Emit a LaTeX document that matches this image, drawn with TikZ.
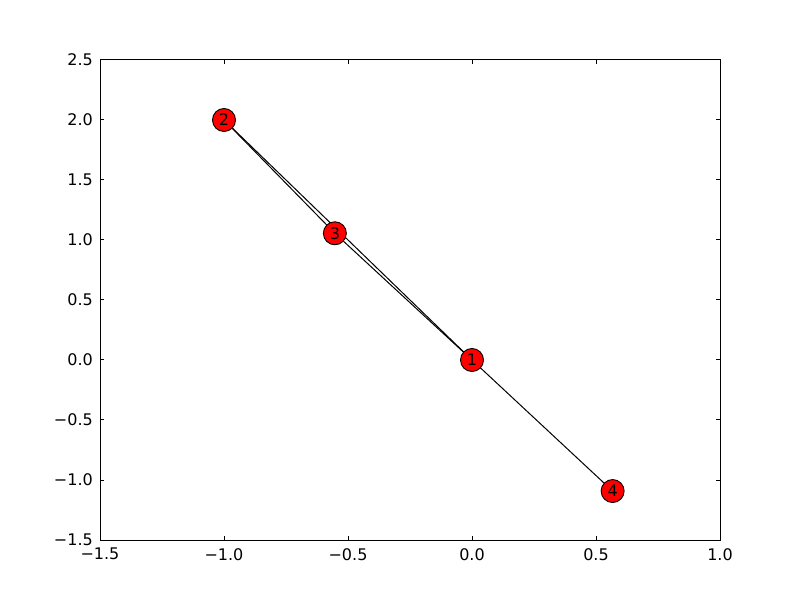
\documentclass[tikz,border=0pt]{standalone}
\usepackage{fontspec}
\setmainfont{DejaVu Sans}
\begin{document}
\begin{tikzpicture}[x=1pt,y=1pt,
  vertex/.style={circle,draw=black,line width=0.9pt,fill=red,minimum size=23pt,inner sep=0pt,font=\fontsize{16}{18}\selectfont},
  edge/.style={black,line width=1pt},
  ticklbl/.style={font=\fontsize{16}{18}\selectfont,inner sep=0pt},
  axisline/.style={black,line width=1pt}]
\useasboundingbox (0,0) rectangle (800,600);
\fill[white] (0,0) rectangle (800,600);
\begin{scope}[shift={(472pt,240pt)},x=248pt,y=120pt]
  \coordinate (ll) at (-1.5,-1.5);
  \coordinate (ur) at (1.0,2.5);
  % ticks
  \foreach \t/\l in {-1.5/−1.5,-1.0/−1.0,-0.5/−0.5,0.0/0.0,0.5/0.5,1.0/1.0}{
    \draw[axisline] (\t,-1.5) -- ++(0,4pt);
    \draw[axisline] (\t,2.5) -- ++(0,-4pt);
    \node[ticklbl,anchor=north] (xl\t) at ([yshift=-8pt]\t,-1.5) {\l};
  }
  \foreach \t/\l in {-1.5/−1.5,-1.0/−1.0,-0.5/−0.5,0.0/0.0,0.5/0.5,1.0/1.0,1.5/1.5,2.0/2.0,2.5/2.5}{
    \draw[axisline] (-1.5,\t) -- ++(4pt,0);
    \draw[axisline] (1.0,\t) -- ++(-4pt,0);
    \node[ticklbl,anchor=east] (yl\t) at ([xshift=-7pt]-1.5,\t) {\l};
  }
  \draw[axisline] (ll) rectangle (ur);
  % nodes
  \coordinate (p1) at (0,0);
  \coordinate (p2) at (-1,2);
  \coordinate (p3) at (-0.553,1.056);
  \coordinate (p4) at (0.567,-1.092);
  \draw[edge] (p2) -- (p3);
  \draw[edge] (p2) -- (p1);
  \draw[edge] (p3) -- (p1);
  \draw[edge] (p1) -- (p4);
  \node[vertex] (n1) at (p1) {1};
  \node[vertex] (n2) at (p2) {2};
  \node[vertex] (n3) at (p3) {3};
  \node[vertex] (n4) at (p4) {4};
\end{scope}
\end{tikzpicture}
\end{document}
